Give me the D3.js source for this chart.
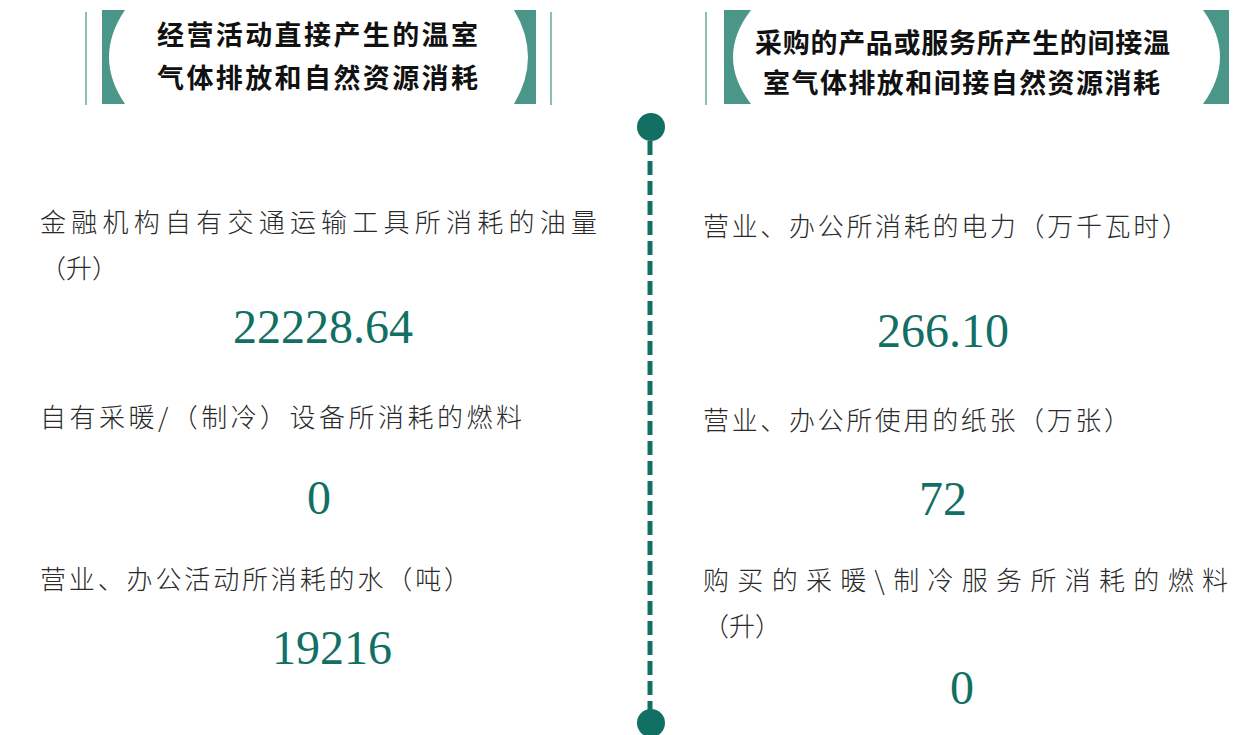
<!DOCTYPE html>
<html>
<head>
<meta charset="utf-8">
<script src="https://cdn.jsdelivr.net/npm/d3@7/dist/d3.min.js"></script>
<style>
  body { margin: 0; background: #fff; }
  svg { display: block; }
</style>
</head>
<body>
<svg id="chart" width="1243" height="735"></svg>
<script>
// 数据
const leftTitle = ["经营活动直接产生的温室", "气体排放和自然资源消耗"];
const rightTitle = ["采购的产品或服务所产生的间接温", "室气体排放和间接自然资源消耗"];

const leftLabels = [
  ["金融机构自有交通运输工具所消耗的油量", "（升）"],
  ["自有采暖/（制冷）设备所消耗的燃料"],
  ["营业、办公活动所消耗的水（吨）"]
];
const leftValues = [22228.64, 0, 19216];
const leftDecimals = [2, 0, 0];

const rightLabels = [
  ["营业、办公所消耗的电力（万千瓦时）"],
  ["营业、办公所使用的纸张（万张）"],
  ["购买的采暖\\制冷服务所消耗的燃料", "（升）"]
];
const rightValues = [266.10, 72, 0];
const rightDecimals = [2, 0, 0];

// 布局
const width = 1243, height = 735;
const svg = d3.select("#chart");
const teal = "#126f64";
const bracketColor = "#4a978a";
const lineColor = "#8cc0b6";

const CJK = "'Noto Sans CJK SC', 'Noto Sans', sans-serif";
const NUM = "'Liberation Serif', 'DejaVu Serif', serif";

// 每栏位置
const panels = [
  {
    title: leftTitle, titleX: [157, 157], titleLen: [321, 321], titleY: [35, 78],
    lineX: [86, 551], bracket: [102, 125, 109, 514, 536, 528],
    labels: leftLabels, labelX: 40, labelY: [222, 417, 579], labelLen: [[557, null], [482], [430]],
    values: leftValues, decimals: leftDecimals, valueX: [323, 319, 332], valueY: [343, 514, 664]
  },
  {
    title: rightTitle, titleX: [755, 763], titleLen: [415, 397], titleY: [43, 83],
    lineX: [706], bracket: [724, 751, 733, 1203, 1229, 1220],
    labels: rightLabels, labelX: 703, labelY: [226, 420, 580], labelLen: [[485], [427], [525, null]],
    values: rightValues, decimals: rightDecimals, valueX: [943, 943, 962], valueY: [347, 515, 704]
  }
];

const labelLineGap = 46;
const labelSize = 26, titleSize = 27;

panels.forEach(p => {
  const g = svg.append("g");

  // 细竖线
  g.selectAll("line.thin")
    .data(p.lineX)
    .enter()
    .append("line")
    .attr("x1", d => d).attr("x2", d => d)
    .attr("y1", 12).attr("y2", 105)
    .attr("stroke", lineColor)
    .attr("stroke-width", 2);

  // 括号
  const [l0, l1, lm, r0, r1, rm] = p.bracket;
  const y0 = 10, y1 = 104, ym = (y0 + y1) / 2;
  const lc = 2 * lm - l1, rc = 2 * rm - r0;
  g.append("path")
    .attr("d", `M${l0},${y0}L${l1},${y0}Q${lc},${ym} ${l1},${y1}L${l0},${y1}Z`)
    .attr("fill", bracketColor);
  g.append("path")
    .attr("d", `M${r1},${y0}L${r0},${y0}Q${rc},${ym} ${r0},${y1}L${r1},${y1}Z`)
    .attr("fill", bracketColor);

  // 标题
  g.selectAll("text.title")
    .data(p.title)
    .enter()
    .append("text")
    .attr("class", "title")
    .attr("x", (d, i) => p.titleX[i])
    .attr("y", (d, i) => p.titleY[i] + titleSize * 0.38)
    .attr("textLength", (d, i) => p.titleLen[i])
    .attr("lengthAdjust", "spacing")
    .attr("font-family", CJK)
    .attr("font-weight", 700)
    .attr("font-size", titleSize)
    .attr("fill", "#111")
    .text(d => d);

  // 指标名称
  p.labels.forEach((lines, i) => {
    g.selectAll(null)
      .data(lines)
      .enter()
      .append("text")
      .attr("x", p.labelX)
      .attr("y", (d, j) => p.labelY[i] + j * labelLineGap + labelSize * 0.38)
      .each(function(d, j) {
        const len = p.labelLen[i][j];
        if (len) d3.select(this).attr("textLength", len).attr("lengthAdjust", "spacing");
      })
      .attr("font-family", CJK)
      .attr("font-weight", 300)
      .attr("font-size", labelSize)
      .attr("fill", "#2a2a2a")
      .text(d => d);
  });

  // 数值
  g.selectAll("text.value")
    .data(p.values)
    .enter()
    .append("text")
    .attr("class", "value")
    .attr("x", (d, i) => p.valueX[i])
    .attr("y", (d, i) => p.valueY[i])
    .attr("text-anchor", "middle")
    .attr("font-family", NUM)
    .attr("font-size", 48)
    .attr("fill", teal)
    .text((d, i) => d3.format("." + p.decimals[i] + "f")(d));
});

// 中间虚线时间轴
const axisY = d3.scaleLinear().domain([0, 1]).range([127, 723]);
svg.append("line")
  .attr("x1", 650).attr("x2", 650)
  .attr("y1", axisY(0) + 14).attr("y2", axisY(1) - 10)
  .attr("stroke", teal)
  .attr("stroke-width", 5)
  .attr("stroke-dasharray", "14 6");

svg.selectAll("circle.node")
  .data([0, 1])
  .enter()
  .append("circle")
  .attr("cx", 651)
  .attr("cy", d => axisY(d))
  .attr("r", 14)
  .attr("fill", teal);
</script>
</body>
</html>
